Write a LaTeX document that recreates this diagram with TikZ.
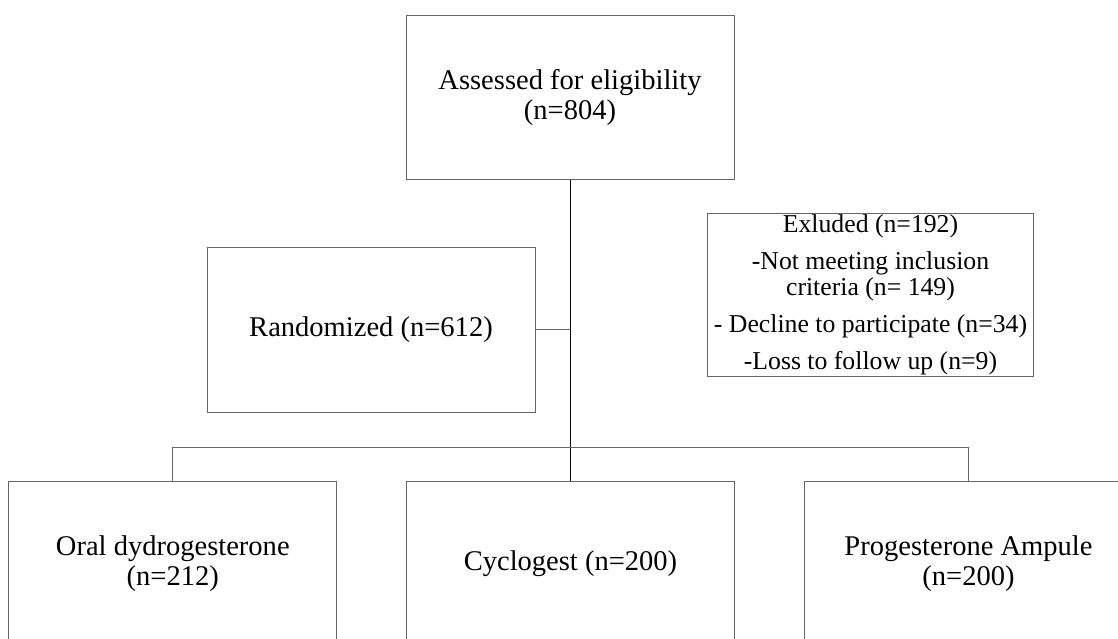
\documentclass[tikz,border=0pt]{standalone}
\usepackage{fontspec}
\setmainfont{Liberation Serif}
\usepackage{xcolor}
\usetikzlibrary{
    arrows,
    arrows.meta,
    shapes,
    positioning,
    calc
}

\begin{document}
\begin{tikzpicture}[x=0.75pt, y=-0.75pt, flow-box/.style={
                rectangle, draw=black!60, line width=0.75pt, text centered, align=center, inner sep=0pt,
                minimum width=246pt, minimum height=122.6pt, font=\fontsize{21.4}{22.5}\selectfont},
                excl-box/.style={flow-box, minimum width=243.8pt, minimum height=122.8pt,
                font=\fontsize{19.3}{19.7}\selectfont}]
                \useasboundingbox (0,0) rectangle (1118,639);
                \clip (0,0) rectangle (1118,639);
                \node[flow-box] (assess) at (570,97.3) {Assessed for eligibility\\ (n=804)};
                \node[excl-box] (excl) at (870.5,294.9) {Exluded (n=192)\\[7.9pt] -Not meeting inclusion\\ criteria (n= 149)\\[7.9pt] - Decline to participate (n=34)\\[7.9pt] -Loss to follow up (n=9)};
                \node[flow-box, minimum height=124.3pt] (rand) at (371,329.9) {Randomized (n=612)};
                \node[flow-box] (oral) at (172.8,563.4) {Oral dydrogesterone\\ (n=212)};
                \node[flow-box] (cyclo) at (570.5,563.4) {Cyclogest (n=200)};
                \node[flow-box] (ampule) at (968.5,563.4) {Progesterone Ampule\\ (n=200)};
                \coordinate (split) at (570,447.5);
                \draw [line width=0.75pt] (assess.south) -- (assess.south |- cyclo.north);
                \draw [draw=black!60, line width=0.75pt] (rand.east) -- (rand.east -| assess.south);
                \draw [draw=black!60, line width=0.75pt] (oral.north) |- (split) -| (ampule.north);
            \end{tikzpicture}
\end{document}
